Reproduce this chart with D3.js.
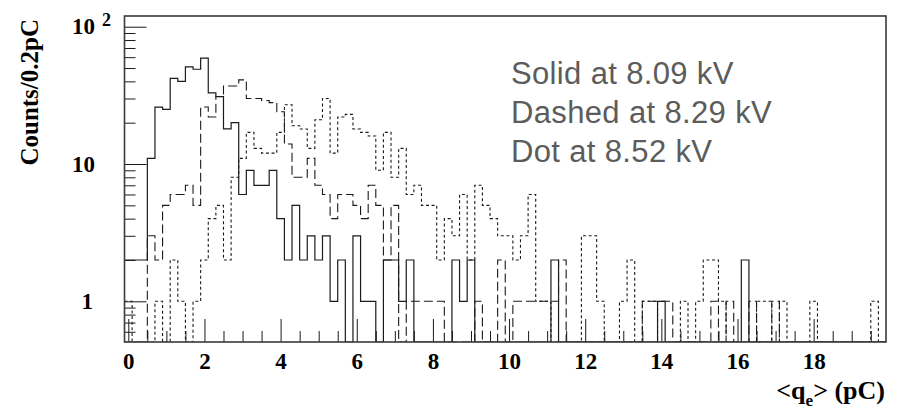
<!DOCTYPE html>
<html>
<head>
<meta charset="utf-8">
<script src="https://cdn.jsdelivr.net/npm/d3@7"></script>
<style>
  html, body { margin: 0; padding: 0; background: #fff; }
  svg { display: block; }
</style>
</head>
<body>
<svg id="chart" width="900" height="414"></svg>
<script>
// Charge spectra <q_e>, 100 bins of 0.2 pC from -0.1 to 19.9 pC
const binLow = -0.1;
const binWidth = 0.2;
const nBins = 100;

// Solid: 8.09 kV
const solidCounts = [
  2, 2, 2, 11, 26, 25, 42, 40, 51, 49,
  59, 33, 31, 18, 20, 6, 9, 7, 7, 9,
  4, 2, 5, 2, 3, 2, 3, 1, 2, 0,
  3, 1, 1, 0, 2, 2, 1, 2, 0, 0,
  0, 0, 0, 2, 1, 2, 0, 0, 0, 0,
  0, 0, 0, 0, 0, 0, 2, 0, 0, 0,
  0, 0, 0, 0, 0, 0, 0, 0, 0, 0,
  1, 0, 0, 0, 0, 0, 0, 0, 0, 0,
  0, 2, 0, 0, 0, 0, 0, 0, 0, 0,
  0, 0, 0, 0, 0, 0, 0, 0, 0, 0
];

// Dashed: 8.29 kV
const dashedCounts = [
  0, 0, 0, 3, 2, 5, 6, 6, 7, 5,
  26, 22, 31, 37, 37, 41, 30, 30, 29, 28,
  24, 14, 8, 8, 11, 7, 6, 4, 6, 6,
  5, 4, 7, 5, 2, 5, 0, 1, 1, 1,
  1, 1, 0, 0, 0, 0, 1, 0, 0, 2,
  0, 1, 1, 1, 1, 1, 1, 2, 0, 0,
  0, 0, 0, 0, 0, 0, 0, 0, 1, 1,
  1, 1, 0, 0, 0, 0, 0, 1, 0, 1,
  0, 0, 1, 0, 0, 1, 0, 0, 0, 0,
  0, 0, 0, 0, 0, 0, 0, 0, 0, 0
];

// Dotted: 8.52 kV
const dottedCounts = [
  1, 0, 0, 0, 1, 0, 2, 1, 0, 1,
  2, 4, 5, 2, 8, 11, 17, 13, 12, 12,
  17, 27, 19, 18, 13, 21, 30, 12, 22, 23,
  18, 17, 16, 9, 17, 8, 13, 6, 7, 5,
  5, 2, 4, 3, 6, 2, 7, 5, 4, 3,
  3, 2, 3, 6, 1, 1, 0, 0, 0, 0,
  3, 3, 1, 0, 0, 1, 2, 0, 1, 1,
  0, 0, 0, 1, 0, 1, 2, 2, 1, 0,
  0, 0, 0, 1, 1, 0, 1, 0, 0, 0,
  1, 0, 0, 0, 0, 0, 0, 0, 1, 0
];

const xTickLabels = [0, 2, 4, 6, 8, 10, 12, 14, 16, 18];
const yMajorTicks = [1, 10, 100];
const legendLines = ["Solid at 8.09 kV", "Dashed at 8.29 kV", "Dot at 8.52 kV"];

// ---- layout ----
const frame = { left: 124.5, right: 886, top: 16, bottom: 342 };
const svg = d3.select("#chart");

const x = d3.scaleLinear()
  .domain([binLow, binLow + nBins * binWidth])
  .range([frame.left, frame.right]);

const y = d3.scaleLog()
  .domain([0.5054, 119.7])
  .range([frame.bottom, frame.top]);

const ink = "#1a1a1a";
const serif = "'Liberation Serif', 'Times New Roman', serif";

svg.append("rect").attr("width", 900).attr("height", 414).attr("fill", "#fff");

// clip for histogram lines
svg.append("clipPath").attr("id", "frameClip")
  .append("rect")
  .attr("x", frame.left).attr("y", frame.top - 1)
  .attr("width", frame.right - frame.left)
  .attr("height", frame.bottom - frame.top + 1);

// ---- histograms ----
function stepPoints(counts) {
  const pts = counts.map((c, i) => [binLow + i * binWidth, c]);
  pts.push([binLow + nBins * binWidth, counts[counts.length - 1]]);
  return pts;
}
const histLine = d3.line()
  .x(d => x(d[0]))
  .y(d => d[1] > 0 ? y(d[1]) : frame.bottom)
  .curve(d3.curveStepAfter);

const series = [
  { counts: dottedCounts, dash: "3,2.6", width: 1.1 },
  { counts: dashedCounts, dash: "9,4", width: 1.1 },
  { counts: solidCounts, dash: null, width: 1.2 }
];

const gHist = svg.append("g").attr("clip-path", "url(#frameClip)");
series.forEach(s => {
  gHist.append("path")
    .datum(stepPoints(s.counts))
    .attr("d", histLine)
    .attr("fill", "none")
    .attr("stroke", ink)
    .attr("stroke-width", s.width)
    .attr("stroke-dasharray", s.dash);
});

// ---- y axis: ticks drawn inward ----
const yMinor = [];
[0.1, 1, 10].forEach(dec => {
  for (let m = 2; m <= 9; m++) {
    const v = m * dec;
    if (v >= y.domain()[0] && v <= y.domain()[1]) yMinor.push(v);
  }
});
svg.append("g")
  .attr("transform", `translate(${frame.left},0)`)
  .call(d3.axisLeft(y).tickValues(yMinor).tickSizeInner(-11).tickSizeOuter(0).tickFormat(""))
  .call(g => g.select(".domain").remove())
  .call(g => g.selectAll("line").attr("stroke", ink).attr("stroke-width", 1));
svg.append("g")
  .attr("transform", `translate(${frame.left},0)`)
  .call(d3.axisLeft(y).tickValues(yMajorTicks).tickSizeInner(-22).tickSizeOuter(0).tickFormat(""))
  .call(g => g.select(".domain").remove())
  .call(g => g.selectAll("line").attr("stroke", ink).attr("stroke-width", 1));

// y tick labels
const yLab = svg.append("g")
  .attr("font-family", serif).attr("font-weight", "bold")
  .attr("font-size", 23).attr("fill", "#000");
yLab.append("text").attr("x", 93).attr("y", y(1)).attr("dy", "0.33em")
  .attr("text-anchor", "end").text("1");
yLab.append("text").attr("x", 95).attr("y", y(10)).attr("dy", "0.33em")
  .attr("text-anchor", "end").text("10");
const t100 = yLab.append("text").attr("x", 72).attr("y", y(100)).attr("dy", "0.33em");
t100.append("tspan").text("10");
t100.append("tspan").attr("dx", 7).attr("dy", "-0.45em").attr("font-size", 18).text("2");

// ---- x axis: ticks drawn inward ----
const xMinor = d3.range(0, 20, 0.5).filter(v => v % 2 !== 0);
svg.append("g")
  .attr("transform", `translate(0,${frame.bottom})`)
  .call(d3.axisBottom(x).tickValues(xMinor).tickSizeInner(-11).tickSizeOuter(0).tickFormat(""))
  .call(g => g.select(".domain").remove())
  .call(g => g.selectAll("line").attr("stroke", ink).attr("stroke-width", 1));
svg.append("g")
  .attr("transform", `translate(0,${frame.bottom})`)
  .call(d3.axisBottom(x).tickValues(xTickLabels).tickSizeInner(-23).tickSizeOuter(0).tickPadding(11))
  .call(g => g.select(".domain").remove())
  .call(g => g.selectAll("line").attr("stroke", ink).attr("stroke-width", 1))
  .call(g => g.selectAll("text")
    .attr("font-family", serif).attr("font-weight", "bold")
    .attr("font-size", 23).attr("fill", "#000")
    .attr("dy", "0.71em"));

// ---- frame ----
svg.append("rect")
  .attr("x", frame.left).attr("y", frame.top)
  .attr("width", frame.right - frame.left)
  .attr("height", frame.bottom - frame.top)
  .attr("fill", "none").attr("stroke", "#3a3a3a").attr("stroke-width", 1.6);

// ---- axis titles ----
svg.append("text")
  .attr("transform", "translate(38,19) rotate(-90)")
  .attr("text-anchor", "end")
  .attr("font-family", serif).attr("font-weight", "bold")
  .attr("font-size", 25).attr("fill", "#000")
  .text("Counts/0.2pC");

const xt = svg.append("text")
  .attr("x", 885).attr("y", 399)
  .attr("text-anchor", "end")
  .attr("font-family", serif).attr("font-weight", "bold")
  .attr("font-size", 26).attr("fill", "#000");
xt.append("tspan").text("<q");
xt.append("tspan").attr("font-size", 17).attr("dy", 7).text("e");
xt.append("tspan").attr("dy", -7).text("> (pC)");

// ---- legend text ----
svg.append("g")
  .attr("font-family", "'Liberation Sans', Arial, sans-serif")
  .attr("font-size", 31).attr("letter-spacing", 0.35).attr("fill", "#5c5c5c")
  .selectAll("text")
  .data(legendLines)
  .join("text")
  .attr("x", 511)
  .attr("y", (d, i) => 84 + i * 39)
  .text(d => d);
</script>
</body>
</html>
